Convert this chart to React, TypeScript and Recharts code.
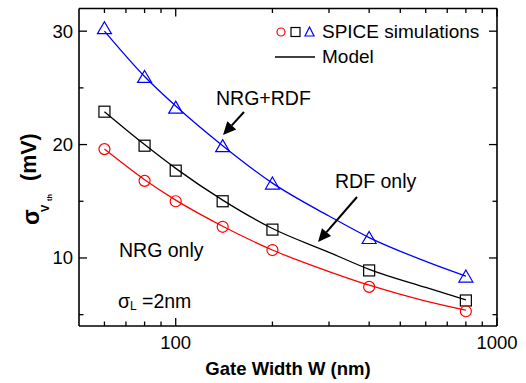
import React from "react"
import { ComposedChart, Line, Scatter, XAxis, YAxis } from "recharts"

// SPICE simulation points (W in nm, sigma Vth in mV)
const simWidths = [60, 80, 100, 140, 200, 400, 800]
const nrgOnlySim = [19.6, 16.8, 15.0, 12.75, 10.7, 7.45, 5.3]
const rdfOnlySim = [22.9, 19.9, 17.7, 15.0, 12.5, 8.9, 6.25]
const nrgRdfSim = [30.2, 25.9, 23.2, 19.8, 16.5, 11.7, 8.3]

// model curves
const modelWidths = [60, 80, 100, 140, 200, 300, 400, 600, 800]
const nrgOnlyModel = [19.6, 16.9, 15.1, 12.8, 10.7, 8.8, 7.6, 6.2, 5.4]
const rdfOnlyModel = [22.9, 20.0, 17.9, 15.1, 12.6, 10.5, 9.0, 7.4, 6.3]
const nrgRdfModel = [30.0, 26.0, 23.4, 19.9, 16.6, 13.7, 11.8, 9.7, 8.4]

const xTicks = [60, 70, 80, 90, 100, 200, 300, 400, 500, 600, 700, 800, 900, 1000]
const xLabeled = [100, 1000]
const yTicks = [5, 10, 15, 20, 25, 30]
const yLabeled = [10, 20, 30]

const FONT = "'Liberation Sans', Arial, Helvetica, sans-serif"
const RED = "#ff0000"
const BLUE = "#0000ff"
const BLACK = "#000000"

const rows = (xs: number[], ys: number[]) => xs.map((w, i) => ({ w, v: ys[i] }))

const MAJOR = 8
const MINOR = 4.5

function BottomTick(props: any) {
  const { x, y, payload } = props
  const major = xLabeled.includes(payload.value)
  return (
    <g>
      <line x1={x} x2={x} y1={y} y2={y - (major ? MAJOR : MINOR)} stroke={BLACK} strokeWidth={1.3} />
      {major && (
        <text x={x} y={y + 23} textAnchor="middle" fontSize={18.5} fontFamily={FONT} fill={BLACK}>
          {payload.value}
        </text>
      )}
    </g>
  )
}

function TopTick(props: any) {
  const { x, y, payload } = props
  const major = xLabeled.includes(payload.value)
  return <line x1={x} x2={x} y1={y} y2={y + (major ? MAJOR : MINOR)} stroke={BLACK} strokeWidth={1.3} />
}

function LeftTick(props: any) {
  const { x, y, payload } = props
  const major = yLabeled.includes(payload.value)
  return (
    <g>
      <line x1={x} x2={x + (major ? MAJOR : MINOR)} y1={y} y2={y} stroke={BLACK} strokeWidth={1.3} />
      {major && (
        <text x={x - 6} y={y + 6.5} textAnchor="end" fontSize={18.5} fontFamily={FONT} fill={BLACK}>
          {payload.value}
        </text>
      )}
    </g>
  )
}

function RightTick(props: any) {
  const { x, y, payload } = props
  const major = yLabeled.includes(payload.value)
  return <line x1={x} x2={x - (major ? MAJOR : MINOR)} y1={y} y2={y} stroke={BLACK} strokeWidth={1.3} />
}

const circle = (r: number, color: string) => (p: any) =>
  <circle cx={p.cx} cy={p.cy} r={r} fill="none" stroke={color} strokeWidth={1.2} />
const square = (s: number, color: string) => (p: any) =>
  <rect x={p.cx - s / 2} y={p.cy - s / 2} width={s} height={s} fill="none" stroke={color} strokeWidth={1.2} />
const triangle = (w: number, h: number, color: string) => (p: any) =>
  <polygon
    points={`${p.cx},${p.cy - h * 0.6} ${p.cx + w / 2},${p.cy + h * 0.4} ${p.cx - w / 2},${p.cy + h * 0.4}`}
    fill="none"
    stroke={color}
    strokeWidth={1.2}
  />

function Arrow({ x1, y1, x2, y2 }: { x1: number; y1: number; x2: number; y2: number }) {
  const dx = x2 - x1
  const dy = y2 - y1
  const len = Math.hypot(dx, dy)
  const ux = dx / len
  const uy = dy / len
  const hl = 13
  const hw = 6
  const bx = x2 - ux * hl
  const by = y2 - uy * hl
  return (
    <g>
      <line x1={x1} y1={y1} x2={bx} y2={by} stroke={BLACK} strokeWidth={2} />
      <polygon points={`${x2},${y2} ${bx - uy * hw},${by + ux * hw} ${bx + uy * hw},${by - ux * hw}`} fill={BLACK} />
    </g>
  )
}

export default function App() {
  const axisLine = { stroke: BLACK, strokeWidth: 1.6 }
  return (
    <div style={{ position: "absolute", left: 0, top: 0, width: 526, height: 383, background: "#fff" }}>
      <ComposedChart width={526} height={383} margin={{ top: 7.5, right: 28, bottom: 56, left: 78 }}>
        <XAxis
          dataKey="w"
          type="number"
          scale="log"
          domain={[50, 1000]}
          ticks={xTicks}
          interval={0}
          height={1}
          tickSize={0}
          tickMargin={0}
          tickLine={false}
          axisLine={axisLine}
          tick={<BottomTick />}
          allowDataOverflow
        />
        <XAxis
          xAxisId="top"
          orientation="top"
          dataKey="w"
          type="number"
          scale="log"
          domain={[50, 1000]}
          ticks={xTicks}
          interval={0}
          height={1}
          tickSize={0}
          tickMargin={0}
          tickLine={false}
          axisLine={axisLine}
          tick={<TopTick />}
          allowDataOverflow
        />
        <YAxis
          type="number"
          domain={[4, 32]}
          ticks={yTicks}
          interval={0}
          width={1}
          tickSize={0}
          tickMargin={0}
          tickLine={false}
          axisLine={axisLine}
          tick={<LeftTick />}
          allowDataOverflow
        />
        <YAxis
          yAxisId="right"
          orientation="right"
          type="number"
          domain={[4, 32]}
          ticks={yTicks}
          interval={0}
          width={1}
          tickSize={0}
          tickMargin={0}
          tickLine={false}
          axisLine={axisLine}
          tick={<RightTick />}
          allowDataOverflow
        />

        <Line data={rows(modelWidths, nrgRdfModel)} dataKey="v" type="monotone" stroke={BLUE} strokeWidth={1.3} dot={false} isAnimationActive={false} />
        <Line data={rows(modelWidths, rdfOnlyModel)} dataKey="v" type="monotone" stroke={BLACK} strokeWidth={1.3} dot={false} isAnimationActive={false} />
        <Line data={rows(modelWidths, nrgOnlyModel)} dataKey="v" type="monotone" stroke={RED} strokeWidth={1.3} dot={false} isAnimationActive={false} />

        <Scatter data={rows(simWidths, nrgRdfSim)} dataKey="v" shape={triangle(14, 12, BLUE)} isAnimationActive={false} />
        <Scatter data={rows(simWidths, rdfOnlySim)} dataKey="v" shape={square(11, BLACK)} isAnimationActive={false} />
        <Scatter data={rows(simWidths, nrgOnlySim)} dataKey="v" shape={circle(5.5, RED)} isAnimationActive={false} />
      </ComposedChart>

      <svg width={526} height={383} style={{ position: "absolute", left: 0, top: 0, pointerEvents: "none" }} fontFamily={FONT}>
        {/* legend */}
        <circle cx={281} cy={32} r={4} fill="none" stroke={RED} strokeWidth={1.2} />
        <rect x={291} y={27.5} width={9} height={9} fill="none" stroke={BLACK} strokeWidth={1.2} />
        <polygon points="309.5,27 314,36 305,36" fill="none" stroke={BLUE} strokeWidth={1.2} />
        <text x={322} y={38} fontSize={19} fill={BLACK}>SPICE simulations</text>
        <line x1={275} x2={315} y1={57} y2={57} stroke={BLACK} strokeWidth={1.3} />
        <text x={322} y={63} fontSize={19} fill={BLACK}>Model</text>

        {/* annotations */}
        <text x={216} y={105} fontSize={19.5} fill={BLACK}>NRG+RDF</text>
        <Arrow x1={244} y1={112} x2={223} y2={135} />
        <text x={335} y={188} fontSize={19.5} fill={BLACK}>RDF only</text>
        <Arrow x1={357} y1={197} x2={318} y2={242} />
        <text x={119} y={257} fontSize={19.5} fill={BLACK}>NRG only</text>
        <text x={118} y={308} fontSize={19.5} fill={BLACK}>σ</text>
        <text x={130} y={310} fontSize={12} fill={BLACK}>L</text>
        <text x={142} y={308} fontSize={19.5} fill={BLACK}>=2nm</text>

        {/* axis titles */}
        <text x={288} y={375} textAnchor="middle" fontSize={18.5} fontWeight="bold" fill={BLACK}>Gate Width W (nm)</text>
        <g transform="rotate(-90)" fontWeight="bold" fill={BLACK}>
          <text x={-225} y={39} fontSize={23}>σ</text>
          <text x={-212} y={49} fontSize={11}>V</text>
          <text x={-201} y={52} fontSize={7.5}>th</text>
          <text x={-181} y={36} fontSize={21.5}>(mV)</text>
        </g>
      </svg>
    </div>
  )
}
